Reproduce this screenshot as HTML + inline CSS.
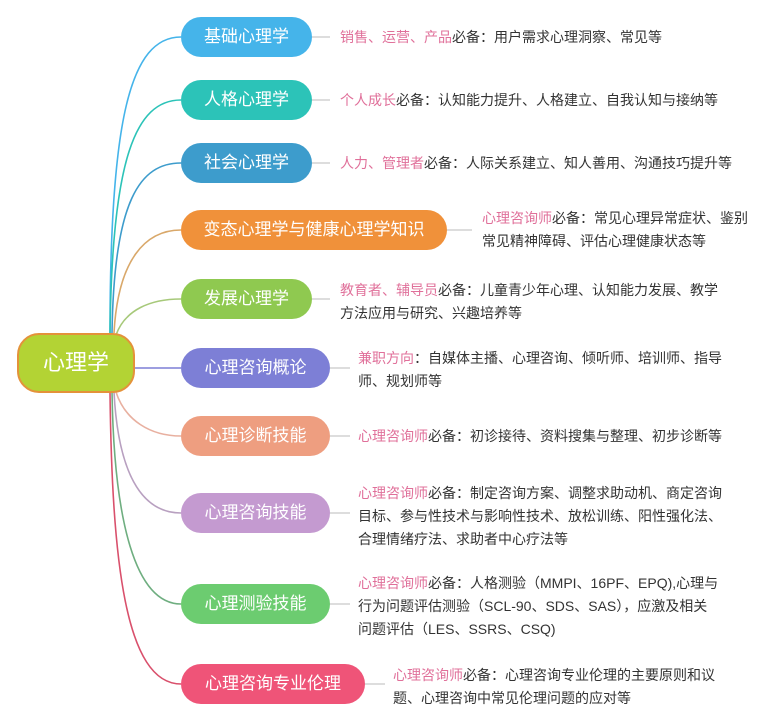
<!DOCTYPE html>
<html><head><meta charset="utf-8"><style>
body{margin:0;width:780px;height:723px;background:#fff;position:relative;overflow:hidden;font-family:"Liberation Sans","Noto Sans CJK SC",sans-serif}
.n{position:absolute;left:181px;height:40px;border-radius:20px;color:#fff;font-size:17px;line-height:40px;text-align:center}
.t{position:absolute;font-size:14px;line-height:23px;color:#333;white-space:nowrap}
.p{color:#e0709a}
</style></head><body>
<svg width="780" height="723" style="position:absolute;left:0;top:0">
<g fill="none" stroke-width="1.6">
<path d="M110 333 C110 120,130 37,181 37" stroke="#45b4ea"/>
<path d="M110 333 C112 160,135 100,181 100" stroke="#2cc3b8"/>
<path d="M112 333 C114 200,140 163,181 163" stroke="#3d9ccc"/>
<path d="M114 333 C118 260,145 230,181 230" stroke="#d9a86a"/>
<path d="M116 335 C125 310,150 299,181 299" stroke="#a7c97a"/>
<path d="M135 368 L181 368" stroke="#7d7fd6"/>
<path d="M116 392 C125 420,150 436,181 436" stroke="#e8b0a0"/>
<path d="M114 392 C118 470,140 513,181 513" stroke="#b8a0c0"/>
<path d="M112 392 C114 520,135 604,181 604" stroke="#6fae80"/>
<path d="M110 392 C112 560,125 684,181 684" stroke="#d9506c"/>
</g>
<g stroke="#bbb" stroke-width="1">
<path d="M312 37H330M312 100H330M312 163H330M447 230H472M312 299H330M330 368H350M330 436H350M330 513H350M330 604H350M365 684H385"/>
</g>
</svg>
<div style="position:absolute;left:17px;top:333px;width:114px;height:56px;border-radius:22px;background:#b3d334;border:2px solid #e4923a;color:#fff;font-size:22px;line-height:56px;text-align:center">心理学</div>
<div class="n" style="top:17px;width:131px;background:#45b4ea">基础心理学</div>
<div class="n" style="top:80px;width:131px;background:#2cc3b8">人格心理学</div>
<div class="n" style="top:143px;width:131px;background:#3d9ccc">社会心理学</div>
<div class="n" style="top:210px;width:266px;background:#f0913a">变态心理学与健康心理学知识</div>
<div class="n" style="top:279px;width:131px;background:#8fc950">发展心理学</div>
<div class="n" style="top:348px;width:149px;background:#7d7fd6">心理咨询概论</div>
<div class="n" style="top:416px;width:149px;background:#ee9e80">心理诊断技能</div>
<div class="n" style="top:493px;width:149px;background:#c49ad0">心理咨询技能</div>
<div class="n" style="top:584px;width:149px;background:#6ccc70">心理测验技能</div>
<div class="n" style="top:664px;width:184px;background:#ef5478">心理咨询专业伦理</div>

<div class="t" style="left:340px;top:26px"><span class="p">销售、运营、产品</span>必备：用户需求心理洞察、常见等</div>
<div class="t" style="left:340px;top:89px"><span class="p">个人成长</span>必备：认知能力提升、人格建立、自我认知与接纳等</div>
<div class="t" style="left:340px;top:152px"><span class="p">人力、管理者</span>必备：人际关系建立、知人善用、沟通技巧提升等</div>
<div class="t" style="left:482px;top:207px"><span class="p">心理咨询师</span>必备：常见心理异常症状、鉴别<br>常见精神障碍、评估心理健康状态等</div>
<div class="t" style="left:340px;top:279px"><span class="p">教育者、辅导员</span>必备：儿童青少年心理、认知能力发展、教学<br>方法应用与研究、兴趣培养等</div>
<div class="t" style="left:358px;top:347px"><span class="p">兼职方向</span>：自媒体主播、心理咨询、倾听师、培训师、指导<br>师、规划师等</div>
<div class="t" style="left:358px;top:425px"><span class="p">心理咨询师</span>必备：初诊接待、资料搜集与整理、初步诊断等</div>
<div class="t" style="left:358px;top:482px"><span class="p">心理咨询师</span>必备：制定咨询方案、调整求助动机、商定咨询<br>目标、参与性技术与影响性技术、放松训练、阳性强化法、<br>合理情绪疗法、求助者中心疗法等</div>
<div class="t" style="left:358px;top:572px"><span class="p">心理咨询师</span>必备：人格测验（MMPI、16PF、EPQ),心理与<br>行为问题评估测验（SCL-90、SDS、SAS），应激及相关<br>问题评估（LES、SSRS、CSQ)</div>
<div class="t" style="left:393px;top:664px"><span class="p">心理咨询师</span>必备：心理咨询专业伦理的主要原则和议<br>题、心理咨询中常见伦理问题的应对等</div>
</body></html>
